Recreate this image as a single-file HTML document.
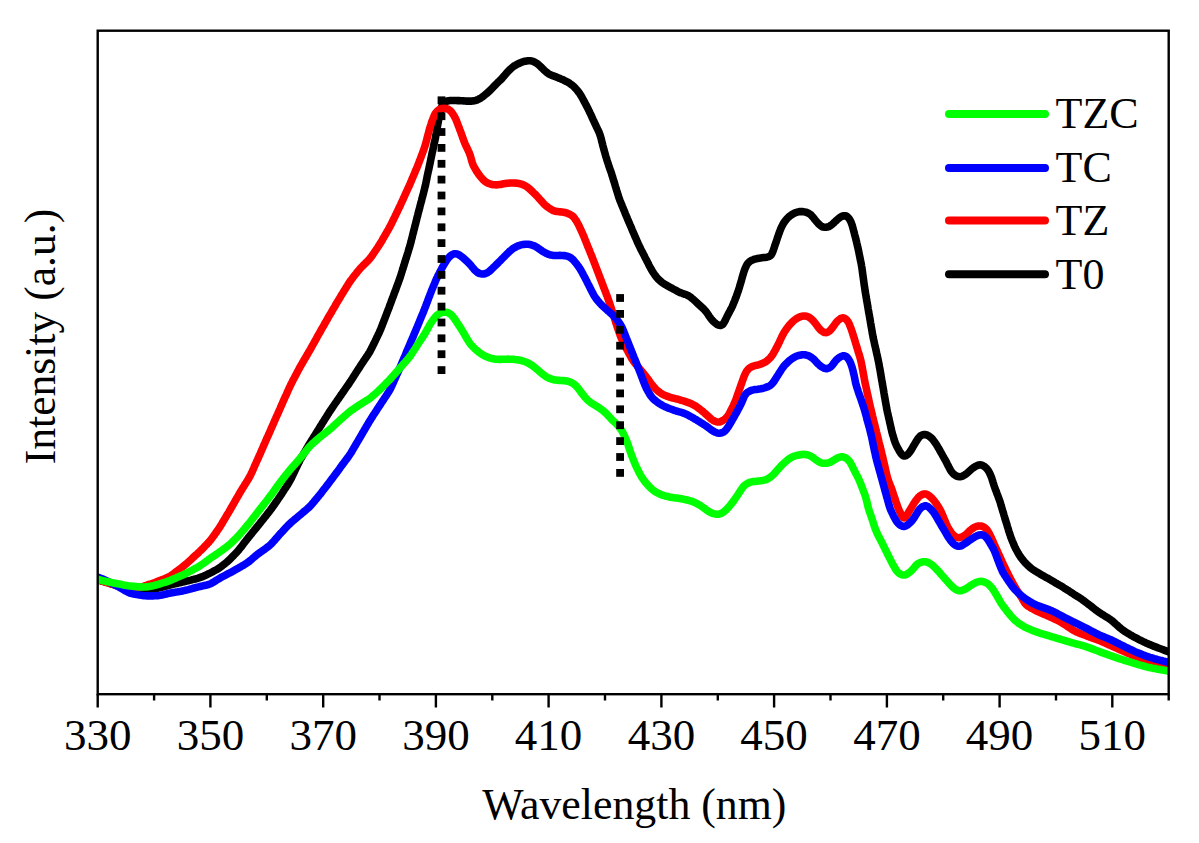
<!DOCTYPE html>
<html><head><meta charset="utf-8"><style>
html,body{margin:0;padding:0;background:#fff;}
body{width:1199px;height:843px;overflow:hidden;}
svg{display:block;font-family:"Liberation Serif",serif;}
</style></head><body>
<svg width="1199" height="843" viewBox="0 0 1199 843">
<rect width="1199" height="843" fill="#fff"/>
<defs><clipPath id="pc"><rect x="97.7" y="30.7" width="1071.0" height="663.5"/></clipPath></defs>
<g fill="none" stroke-width="7.6" stroke-linejoin="round" stroke-linecap="round" clip-path="url(#pc)">
<path d="M95.6,579.1L96.5,579.4 97.6,579.7 98.9,580.1 100.3,580.5 101.7,581.0 103.1,581.4 104.6,581.8 106.0,582.3 107.4,582.7 108.9,583.1 110.3,583.6 111.7,584.0 113.2,584.4 114.6,584.9 116.0,585.3 117.5,585.7 118.9,586.1 120.4,586.4 121.9,586.7 123.3,587.0 124.8,587.2 126.3,587.4 127.8,587.7 129.3,587.9 130.7,588.1 132.2,588.3 133.7,588.6 135.2,588.8 136.7,589.0 138.2,589.1 139.7,589.3 141.1,589.3 142.6,589.4 144.1,589.3 145.6,589.3 147.1,589.3 148.6,589.2 150.1,589.1 151.6,589.1 153.1,589.0 154.6,588.8 156.1,588.5 157.5,588.3 159.0,587.9 160.4,587.5 161.9,587.2 163.3,586.8 164.8,586.4 166.2,586.0 167.7,585.6 169.1,585.3 170.6,584.9 172.1,584.5 173.5,584.2 175.0,583.8 176.4,583.5 177.9,583.2 179.4,582.8 180.8,582.5 182.3,582.1 183.7,581.8 185.2,581.4 186.7,581.1 188.1,580.8 189.6,580.4 191.0,580.1 192.5,579.7 193.9,579.3 195.4,579.0 196.8,578.6 198.3,578.2 199.7,577.7 201.1,577.2 202.5,576.7 203.9,576.1 205.2,575.4 206.6,574.8 207.9,574.1 209.3,573.5 210.6,572.8 212.0,572.1 213.3,571.4 214.6,570.7 215.9,570.0 217.2,569.3 218.5,568.5 219.7,567.6 220.9,566.8 222.1,565.9 223.3,564.9 224.5,564.0 225.6,563.1 226.8,562.1 227.9,561.1 229.0,560.1 230.1,559.1 231.2,558.0 232.2,556.9 233.3,555.9 234.3,554.8 235.3,553.7 236.4,552.6 237.4,551.5 238.4,550.4 239.3,549.2 240.2,548.0 241.2,546.9 242.1,545.7 243.0,544.5 243.9,543.3 244.8,542.1 245.8,540.9 246.7,539.7 247.6,538.6 248.5,537.4 249.5,536.2 250.4,535.0 251.4,533.9 252.3,532.7 253.2,531.6 254.2,530.4 255.1,529.2 256.1,528.1 257.0,526.9 258.0,525.7 258.9,524.6 259.9,523.4 260.8,522.2 261.7,521.1 262.7,519.9 263.6,518.7 264.5,517.5 265.5,516.4 266.4,515.2 267.3,514.0 268.3,512.8 269.2,511.7 270.1,510.5 271.0,509.3 271.9,508.0 272.7,506.8 273.6,505.6 274.5,504.4 275.3,503.1 276.2,501.9 277.1,500.7 277.9,499.5 278.8,498.2 279.6,497.0 280.4,495.7 281.3,494.5 282.1,493.2 282.9,492.0 283.7,490.7 284.5,489.5 285.4,488.2 286.2,486.9 287.0,485.7 287.8,484.4 288.6,483.1 289.3,481.8 290.1,480.5 290.8,479.2 291.5,477.9 292.1,476.5 292.8,475.2 293.4,473.8 294.1,472.5 294.7,471.1 295.3,469.8 296.0,468.4 296.6,467.1 297.3,465.7 297.9,464.4 298.6,463.0 299.3,461.7 299.9,460.3 300.6,459.0 301.4,457.7 302.1,456.4 302.9,455.1 303.6,453.8 304.4,452.5 305.2,451.2 305.9,449.9 306.7,448.6 307.4,447.4 308.2,446.1 309.0,444.8 309.7,443.5 310.5,442.2 311.3,440.9 312.1,439.7 312.9,438.4 313.7,437.1 314.5,435.8 315.3,434.6 316.1,433.3 316.9,432.0 317.7,430.7 318.5,429.5 319.2,428.2 320.0,426.9 320.8,425.7 321.6,424.4 322.4,423.1 323.2,421.8 324.0,420.6 324.8,419.3 325.6,418.0 326.4,416.8 327.2,415.5 328.0,414.2 328.8,412.9 329.6,411.7 330.4,410.4 331.3,409.2 332.1,407.9 333.0,406.7 333.8,405.5 334.7,404.2 335.5,403.0 336.4,401.8 337.2,400.5 338.1,399.3 338.9,398.1 339.8,396.8 340.6,395.6 341.5,394.4 342.4,393.1 343.2,391.9 344.1,390.7 344.9,389.5 345.8,388.2 346.6,387.0 347.5,385.8 348.4,384.5 349.2,383.3 350.0,382.0 350.9,380.8 351.7,379.5 352.5,378.3 353.3,377.0 354.1,375.7 354.9,374.5 355.7,373.2 356.5,372.0 357.3,370.7 358.1,369.4 359.0,368.2 359.8,366.9 360.6,365.6 361.4,364.4 362.3,363.1 363.1,361.9 363.9,360.7 364.8,359.4 365.6,358.2 366.4,356.9 367.3,355.7 368.1,354.4 368.9,353.2 369.7,351.9 370.4,350.6 371.1,349.2 371.8,347.9 372.4,346.6 373.1,345.2 373.8,343.9 374.4,342.5 375.1,341.2 375.7,339.8 376.4,338.5 377.0,337.1 377.7,335.8 378.3,334.4 379.0,333.1 379.6,331.7 380.2,330.3 380.8,328.9 381.3,327.5 381.9,326.2 382.4,324.8 382.9,323.4 383.5,322.0 384.0,320.6 384.6,319.2 385.1,317.8 385.6,316.4 386.2,315.0 386.7,313.6 387.2,312.2 387.8,310.8 388.3,309.4 388.9,308.0 389.4,306.5 389.9,305.1 390.5,303.7 391.0,302.3 391.5,300.9 392.0,299.5 392.5,298.1 393.1,296.7 393.6,295.3 394.1,293.9 394.6,292.5 395.2,291.1 395.7,289.7 396.2,288.3 396.7,286.9 397.2,285.5 397.8,284.1 398.3,282.6 398.8,281.2 399.3,279.8 399.8,278.4 400.3,277.0 400.7,275.6 401.2,274.1 401.6,272.7 402.1,271.3 402.5,269.8 403.0,268.4 403.4,267.0 403.9,265.5 404.3,264.1 404.7,262.7 405.2,261.2 405.6,259.8 406.1,258.4 406.5,256.9 407.0,255.5 407.4,254.1 407.9,252.6 408.3,251.2 408.7,249.8 409.2,248.3 409.6,246.9 410.0,245.5 410.4,244.0 410.8,242.6 411.2,241.1 411.5,239.7 411.9,238.2 412.3,236.7 412.6,235.3 413.0,233.8 413.4,232.4 413.7,230.9 414.1,229.5 414.5,228.0 414.8,226.6 415.2,225.1 415.6,223.7 415.9,222.2 416.3,220.7 416.7,219.3 417.0,217.8 417.4,216.4 417.8,214.9 418.1,213.5 418.5,212.0 418.9,210.6 419.3,209.1 419.7,207.7 420.0,206.2 420.4,204.8 420.8,203.3 421.2,201.9 421.6,200.4 421.9,199.0 422.3,197.5 422.7,196.1 423.1,194.6 423.5,193.2 423.8,191.7 424.2,190.3 424.6,188.8 424.9,187.3 425.3,185.9 425.6,184.4 425.9,183.0 426.2,181.5 426.5,180.0 426.8,178.6 427.1,177.1 427.4,175.6 427.7,174.1 428.0,172.7 428.3,171.2 428.7,169.7 429.0,168.3 429.3,166.8 429.6,165.3 429.9,163.9 430.2,162.4 430.5,160.9 430.8,159.5 431.1,158.0 431.4,156.5 431.7,155.1 432.0,153.6 432.3,152.1 432.7,150.7 433.0,149.2 433.3,147.7 433.6,146.3 433.9,144.8 434.2,143.3 434.6,141.9 434.9,140.4 435.2,138.9 435.5,137.5 435.7,136.0 436.0,134.5 436.3,133.0 436.5,131.5 436.8,130.1 437.1,128.6 437.3,127.1 437.6,125.6 437.8,124.2 438.1,122.7 438.4,121.2 438.6,119.7 438.9,118.3 439.2,116.8 439.5,115.3 439.8,113.8 440.1,112.4 440.4,110.9 440.8,109.5 441.2,108.0 441.7,106.7 442.3,105.3 443.0,104.1 443.9,103.0 444.9,102.1 446.1,101.4 447.4,101.0 448.8,100.7 450.2,100.5 451.7,100.5 453.2,100.5 454.7,100.5 456.2,100.5 457.7,100.6 459.2,100.6 460.7,100.7 462.2,100.8 463.7,100.9 465.2,101.0 466.7,101.1 468.2,101.1 469.7,101.1 471.2,101.1 472.7,101.0 474.1,100.7 475.6,100.4 477.0,100.0 478.3,99.4 479.6,98.7 480.9,97.9 482.1,97.1 483.3,96.2 484.5,95.3 485.6,94.3 486.8,93.4 487.9,92.4 489.0,91.4 490.1,90.4 491.2,89.3 492.2,88.2 493.2,87.1 494.3,86.0 495.3,85.0 496.4,83.9 497.4,82.9 498.5,81.8 499.6,80.8 500.7,79.7 501.7,78.7 502.7,77.5 503.7,76.4 504.7,75.3 505.7,74.1 506.6,73.0 507.6,71.9 508.7,70.8 509.7,69.8 510.8,68.7 511.9,67.7 513.1,66.8 514.3,65.9 515.5,65.2 516.8,64.4 518.2,63.8 519.5,63.1 520.9,62.6 522.3,62.0 523.7,61.5 525.1,61.2 526.6,60.9 528.0,60.7 529.5,60.7 530.9,60.8 532.3,61.2 533.7,61.6 535.0,62.3 536.3,63.0 537.5,63.9 538.6,64.8 539.7,65.8 540.8,66.9 541.9,67.9 542.9,68.9 544.0,70.0 545.1,71.0 546.2,72.0 547.4,72.9 548.6,73.8 549.9,74.5 551.2,75.1 552.6,75.7 554.0,76.2 555.4,76.7 556.8,77.2 558.2,77.8 559.6,78.3 560.9,78.9 562.3,79.5 563.7,80.1 565.0,80.8 566.4,81.5 567.7,82.2 569.0,82.9 570.2,83.8 571.4,84.6 572.6,85.5 573.7,86.5 574.8,87.6 575.8,88.7 576.8,89.8 577.7,90.9 578.6,92.1 579.5,93.3 580.3,94.6 581.1,95.9 581.9,97.1 582.6,98.5 583.3,99.8 584.0,101.1 584.7,102.4 585.4,103.7 586.1,105.1 586.8,106.4 587.5,107.7 588.2,109.1 588.8,110.4 589.5,111.8 590.1,113.1 590.8,114.5 591.4,115.8 592.0,117.2 592.6,118.6 593.2,119.9 593.9,121.3 594.5,122.7 595.1,124.0 595.8,125.4 596.4,126.7 597.1,128.1 597.7,129.4 598.4,130.8 599.0,132.1 599.5,133.5 600.0,134.9 600.5,136.4 600.9,137.8 601.3,139.3 601.6,140.7 602.0,142.2 602.4,143.6 602.7,145.1 603.1,146.5 603.5,148.0 603.9,149.4 604.3,150.9 604.7,152.3 605.1,153.8 605.5,155.2 605.9,156.6 606.4,158.1 606.8,159.5 607.2,160.9 607.7,162.4 608.2,163.8 608.6,165.2 609.1,166.6 609.6,168.1 610.1,169.5 610.6,170.9 611.1,172.3 611.6,173.7 612.0,175.2 612.5,176.6 612.9,178.0 613.3,179.5 613.8,180.9 614.2,182.3 614.7,183.8 615.1,185.2 615.5,186.6 616.0,188.1 616.4,189.5 616.8,190.9 617.3,192.4 617.7,193.8 618.2,195.2 618.6,196.7 619.1,198.1 619.6,199.5 620.1,200.9 620.7,202.3 621.3,203.7 621.8,205.1 622.4,206.5 623.0,207.8 623.5,209.2 624.1,210.6 624.7,212.0 625.2,213.4 625.8,214.8 626.4,216.2 627.0,217.6 627.5,218.9 628.1,220.3 628.7,221.7 629.3,223.1 629.9,224.5 630.5,225.8 631.1,227.2 631.7,228.6 632.2,230.0 632.8,231.3 633.4,232.7 634.0,234.1 634.6,235.5 635.2,236.9 635.8,238.2 636.4,239.6 637.0,241.0 637.6,242.4 638.2,243.7 638.9,245.1 639.5,246.4 640.2,247.8 640.8,249.1 641.5,250.5 642.2,251.8 642.9,253.1 643.6,254.5 644.3,255.8 644.9,257.1 645.6,258.5 646.3,259.8 647.0,261.1 647.7,262.5 648.4,263.8 649.0,265.2 649.7,266.5 650.4,267.8 651.1,269.1 651.9,270.4 652.7,271.7 653.5,273.0 654.3,274.2 655.2,275.4 656.1,276.6 657.0,277.8 658.0,278.9 659.1,279.9 660.2,280.9 661.3,281.9 662.5,282.8 663.7,283.6 665.0,284.4 666.3,285.1 667.6,285.9 668.9,286.6 670.2,287.3 671.6,288.0 672.9,288.8 674.2,289.5 675.5,290.2 676.8,290.9 678.1,291.6 679.5,292.3 680.9,292.8 682.2,293.3 683.7,293.8 685.1,294.3 686.4,294.8 687.8,295.4 689.0,296.1 690.2,296.9 691.4,297.8 692.6,298.8 693.7,299.8 694.8,300.8 695.9,301.8 697.0,302.9 698.1,303.9 699.2,304.9 700.3,305.9 701.4,306.9 702.5,307.9 703.6,308.9 704.6,310.0 705.6,311.1 706.5,312.3 707.4,313.5 708.2,314.7 709.0,316.0 709.9,317.2 710.7,318.4 711.7,319.6 712.7,320.7 713.7,321.7 714.8,322.7 716.0,323.7 717.1,324.5 718.4,325.1 719.6,325.4 720.8,325.4 721.9,325.0 722.9,324.2 723.7,323.1 724.4,321.9 725.1,320.6 725.7,319.3 726.4,317.9 727.0,316.6 727.7,315.2 728.4,313.9 729.1,312.6 729.8,311.3 730.5,309.9 731.2,308.6 731.9,307.3 732.5,305.9 733.1,304.5 733.7,303.1 734.2,301.8 734.8,300.4 735.3,299.0 735.9,297.6 736.4,296.2 736.9,294.7 737.4,293.3 737.9,291.9 738.4,290.5 738.8,289.1 739.3,287.6 739.7,286.2 740.1,284.8 740.6,283.3 741.0,281.9 741.4,280.4 741.8,279.0 742.2,277.5 742.6,276.1 743.0,274.7 743.5,273.2 743.9,271.8 744.4,270.4 744.9,269.0 745.5,267.6 746.1,266.3 746.8,264.9 747.5,263.7 748.5,262.6 749.5,261.7 750.7,260.9 752.0,260.2 753.3,259.7 754.7,259.2 756.2,258.8 757.6,258.5 759.1,258.2 760.6,258.0 762.1,257.8 763.5,257.6 765.0,257.4 766.5,257.2 767.9,256.9 769.1,256.5 770.3,255.8 771.2,254.9 771.9,253.7 772.5,252.4 773.0,251.1 773.5,249.7 774.0,248.2 774.5,246.8 774.9,245.4 775.4,244.0 775.9,242.6 776.4,241.1 776.9,239.7 777.3,238.3 777.8,236.9 778.3,235.5 778.8,234.0 779.3,232.6 779.8,231.2 780.4,229.8 780.9,228.4 781.5,227.1 782.2,225.7 782.9,224.4 783.6,223.1 784.5,221.9 785.3,220.7 786.3,219.5 787.3,218.4 788.3,217.4 789.4,216.4 790.6,215.5 791.8,214.6 793.1,213.9 794.4,213.2 795.8,212.6 797.2,212.2 798.6,211.8 800.0,211.6 801.5,211.6 803.0,211.6 804.4,211.9 805.8,212.2 807.2,212.7 808.5,213.3 809.7,214.0 810.9,214.9 811.9,216.0 812.9,217.1 813.8,218.2 814.7,219.4 815.7,220.6 816.6,221.7 817.6,222.8 818.6,223.9 819.7,224.9 820.8,225.8 822.0,226.6 823.3,227.1 824.6,227.3 825.9,227.3 827.3,227.1 828.7,226.7 829.9,226.0 831.1,225.2 832.3,224.3 833.4,223.3 834.4,222.3 835.5,221.3 836.6,220.2 837.7,219.2 838.9,218.3 840.0,217.4 841.2,216.6 842.5,216.1 843.8,215.7 845.0,215.7 846.2,216.0 847.3,216.7 848.2,217.6 849.1,218.7 849.9,219.9 850.6,221.2 851.2,222.6 851.7,224.0 852.2,225.4 852.6,226.8 853.0,228.3 853.4,229.7 853.8,231.2 854.2,232.6 854.5,234.1 854.9,235.5 855.3,237.0 855.7,238.4 856.0,239.9 856.4,241.3 856.7,242.8 857.1,244.2 857.4,245.7 857.8,247.2 858.1,248.6 858.4,250.1 858.7,251.6 859.0,253.0 859.3,254.5 859.6,256.0 859.9,257.4 860.2,258.9 860.5,260.4 860.8,261.8 861.1,263.3 861.4,264.8 861.6,266.3 861.9,267.7 862.1,269.2 862.3,270.7 862.5,272.2 862.7,273.7 862.9,275.2 863.1,276.7 863.3,278.1 863.5,279.6 863.7,281.1 863.9,282.6 864.1,284.1 864.3,285.6 864.6,287.1 864.8,288.5 865.0,290.0 865.2,291.5 865.5,293.0 865.7,294.5 866.0,295.9 866.2,297.4 866.5,298.9 866.7,300.4 867.0,301.9 867.2,303.3 867.5,304.8 867.7,306.3 868.0,307.8 868.2,309.3 868.5,310.7 868.7,312.2 869.0,313.7 869.3,315.2 869.5,316.6 869.8,318.1 870.0,319.6 870.3,321.1 870.5,322.6 870.8,324.0 871.0,325.5 871.3,327.0 871.6,328.5 871.8,330.0 872.1,331.4 872.3,332.9 872.6,334.4 872.9,335.9 873.1,337.3 873.4,338.8 873.8,340.3 874.1,341.7 874.4,343.2 874.7,344.7 875.1,346.1 875.4,347.6 875.7,349.0 876.1,350.5 876.4,352.0 876.7,353.4 877.1,354.9 877.4,356.4 877.7,357.8 878.0,359.3 878.3,360.8 878.6,362.2 878.9,363.7 879.2,365.2 879.4,366.7 879.7,368.1 880.0,369.6 880.2,371.1 880.5,372.6 880.7,374.0 881.0,375.5 881.2,377.0 881.5,378.5 881.7,380.0 882.0,381.4 882.3,382.9 882.5,384.4 882.8,385.9 883.0,387.3 883.3,388.8 883.5,390.3 883.8,391.8 884.0,393.3 884.3,394.7 884.5,396.2 884.8,397.7 885.1,399.2 885.3,400.7 885.6,402.1 885.8,403.6 886.1,405.1 886.4,406.6 886.6,408.0 886.9,409.5 887.2,411.0 887.5,412.4 887.9,413.9 888.2,415.4 888.5,416.8 888.8,418.3 889.2,419.8 889.5,421.2 889.8,422.7 890.2,424.2 890.5,425.6 890.8,427.1 891.1,428.5 891.5,430.0 891.8,431.5 892.2,432.9 892.6,434.4 893.0,435.8 893.5,437.2 893.9,438.7 894.3,440.1 894.8,441.5 895.3,442.9 895.9,444.3 896.5,445.7 897.1,447.0 897.8,448.3 898.6,449.6 899.3,450.9 900.1,452.2 900.9,453.4 901.8,454.5 902.7,455.3 903.7,455.9 904.8,456.0 905.9,455.6 907.0,455.0 908.0,454.1 909.0,453.0 909.9,451.9 910.7,450.7 911.5,449.4 912.3,448.1 913.0,446.8 913.8,445.5 914.5,444.2 915.3,442.9 916.1,441.6 916.9,440.4 917.7,439.1 918.6,437.9 919.5,436.8 920.5,435.9 921.7,435.2 922.9,434.7 924.2,434.5 925.5,434.6 926.9,435.0 928.1,435.6 929.4,436.4 930.5,437.2 931.6,438.3 932.6,439.3 933.5,440.5 934.4,441.7 935.2,442.9 936.1,444.2 936.9,445.4 937.7,446.7 938.4,448.0 939.2,449.3 939.9,450.6 940.6,451.9 941.4,453.2 942.1,454.5 942.8,455.8 943.6,457.2 944.3,458.5 945.0,459.8 945.8,461.1 946.5,462.4 947.1,463.7 947.8,465.1 948.5,466.4 949.2,467.7 949.9,469.1 950.6,470.4 951.4,471.6 952.3,472.7 953.3,473.8 954.4,474.7 955.6,475.5 956.8,476.2 958.1,476.6 959.4,476.8 960.7,476.7 962.0,476.3 963.3,475.7 964.6,475.0 965.8,474.2 967.0,473.3 968.1,472.3 969.2,471.3 970.3,470.3 971.4,469.3 972.5,468.3 973.7,467.5 975.0,466.7 976.3,466.0 977.6,465.4 978.9,465.0 980.2,464.9 981.5,465.0 982.7,465.5 983.9,466.2 985.1,467.0 986.2,468.0 987.1,469.1 988.0,470.2 988.8,471.5 989.5,472.8 990.1,474.1 990.7,475.5 991.3,476.9 991.8,478.3 992.2,479.7 992.7,481.1 993.1,482.6 993.6,484.0 994.0,485.4 994.5,486.9 995.0,488.3 995.5,489.7 996.1,491.1 996.6,492.5 997.1,493.9 997.7,495.3 998.2,496.7 998.7,498.1 999.2,499.5 999.7,500.9 1000.2,502.3 1000.6,503.8 1001.0,505.2 1001.5,506.7 1001.9,508.1 1002.3,509.5 1002.7,511.0 1003.2,512.4 1003.6,513.8 1004.0,515.3 1004.5,516.7 1004.9,518.2 1005.3,519.6 1005.8,521.0 1006.2,522.5 1006.7,523.9 1007.1,525.3 1007.5,526.8 1008.0,528.2 1008.4,529.6 1008.8,531.1 1009.3,532.5 1009.7,533.9 1010.2,535.3 1010.7,536.8 1011.2,538.2 1011.8,539.6 1012.3,541.0 1012.9,542.3 1013.5,543.7 1014.0,545.1 1014.6,546.5 1015.3,547.8 1016.0,549.2 1016.7,550.5 1017.4,551.8 1018.1,553.1 1018.9,554.4 1019.7,555.7 1020.5,556.9 1021.4,558.1 1022.3,559.3 1023.3,560.5 1024.2,561.6 1025.2,562.8 1026.2,563.8 1027.3,564.9 1028.4,565.9 1029.5,566.9 1030.6,567.9 1031.8,568.8 1033.0,569.6 1034.3,570.5 1035.6,571.3 1036.8,572.0 1038.1,572.8 1039.4,573.6 1040.7,574.4 1042.0,575.1 1043.3,575.8 1044.6,576.6 1045.9,577.3 1047.2,578.0 1048.6,578.7 1049.9,579.5 1051.1,580.2 1052.4,581.0 1053.7,581.8 1055.0,582.6 1056.3,583.3 1057.6,584.1 1058.9,584.8 1060.2,585.5 1061.5,586.3 1062.8,587.1 1064.0,587.9 1065.3,588.7 1066.6,589.5 1067.8,590.3 1069.1,591.1 1070.3,591.9 1071.6,592.8 1072.9,593.6 1074.1,594.4 1075.4,595.2 1076.7,596.0 1077.9,596.8 1079.2,597.6 1080.5,598.4 1081.7,599.2 1082.9,600.1 1084.1,601.0 1085.3,601.8 1086.5,602.8 1087.7,603.7 1088.9,604.6 1090.1,605.5 1091.3,606.4 1092.4,607.4 1093.6,608.3 1094.8,609.2 1096.0,610.1 1097.2,611.0 1098.4,611.9 1099.6,612.8 1100.9,613.6 1102.2,614.4 1103.5,615.1 1104.7,615.9 1106.0,616.7 1107.3,617.5 1108.6,618.3 1109.8,619.1 1111.0,620.0 1112.2,620.9 1113.3,621.9 1114.4,622.9 1115.5,623.9 1116.7,624.9 1117.8,625.9 1118.9,626.9 1120.0,627.9 1121.2,628.8 1122.3,629.8 1123.6,630.6 1124.8,631.5 1126.1,632.3 1127.3,633.0 1128.6,633.8 1129.9,634.6 1131.2,635.3 1132.5,636.1 1133.8,636.8 1135.1,637.5 1136.5,638.2 1137.8,638.9 1139.1,639.6 1140.5,640.3 1141.8,640.9 1143.2,641.6 1144.5,642.2 1145.9,642.9 1147.3,643.5 1148.6,644.1 1150.0,644.6 1151.4,645.2 1152.8,645.8 1154.2,646.3 1155.6,646.9 1157.0,647.4 1158.4,648.0 1159.8,648.5 1161.2,649.0 1162.6,649.5 1164.0,650.1 1165.4,650.6 1166.8,651.1 1168.1,651.5 1169.3,652.0 1170.3,652.3 1170.9,652.5" stroke="#000000"/>
<path d="M95.6,579.1L96.5,579.4 97.6,579.7 98.9,580.1 100.3,580.5 101.7,581.0 103.1,581.4 104.6,581.8 106.0,582.3 107.4,582.7 108.9,583.1 110.3,583.6 111.7,584.0 113.2,584.4 114.6,584.9 116.0,585.3 117.5,585.7 118.9,586.0 120.4,586.3 121.9,586.5 123.4,586.6 124.9,586.7 126.4,586.8 127.9,586.9 129.3,587.0 130.8,587.0 132.3,587.1 133.8,587.2 135.3,587.2 136.8,587.3 138.3,587.2 139.8,587.1 141.2,586.8 142.7,586.5 144.1,586.1 145.5,585.6 147.0,585.2 148.4,584.7 149.8,584.2 151.2,583.8 152.6,583.3 154.1,582.8 155.5,582.3 156.9,581.7 158.3,581.2 159.7,580.6 161.1,580.1 162.4,579.5 163.8,579.0 165.2,578.4 166.6,577.8 168.0,577.2 169.3,576.5 170.6,575.8 171.8,575.0 173.1,574.1 174.3,573.2 175.4,572.3 176.6,571.4 177.8,570.5 179.0,569.6 180.2,568.7 181.4,567.8 182.6,566.8 183.8,565.9 184.9,564.9 186.1,564.0 187.2,563.0 188.3,562.0 189.4,561.0 190.5,560.0 191.6,559.0 192.7,557.9 193.8,556.9 194.9,555.9 196.0,554.9 197.2,553.9 198.3,552.9 199.3,551.8 200.4,550.8 201.5,549.7 202.5,548.7 203.6,547.6 204.6,546.5 205.7,545.4 206.7,544.4 207.7,543.3 208.8,542.2 209.7,541.0 210.7,539.9 211.6,538.7 212.5,537.5 213.4,536.3 214.3,535.1 215.1,533.9 216.0,532.6 216.9,531.4 217.7,530.2 218.6,528.9 219.4,527.7 220.2,526.4 221.0,525.1 221.8,523.9 222.5,522.6 223.3,521.3 224.1,520.0 224.8,518.7 225.6,517.4 226.4,516.1 227.1,514.8 227.9,513.5 228.7,512.3 229.4,511.0 230.2,509.7 230.9,508.4 231.7,507.1 232.4,505.8 233.2,504.5 233.9,503.2 234.6,501.9 235.4,500.6 236.1,499.3 236.9,498.0 237.6,496.7 238.4,495.4 239.1,494.1 239.9,492.8 240.7,491.5 241.4,490.2 242.2,488.9 243.0,487.7 243.8,486.4 244.6,485.1 245.4,483.8 246.2,482.6 247.0,481.3 247.8,480.0 248.6,478.7 249.3,477.4 250.0,476.1 250.7,474.8 251.3,473.4 252.0,472.1 252.6,470.7 253.2,469.3 253.8,468.0 254.4,466.6 255.0,465.2 255.6,463.8 256.2,462.5 256.8,461.1 257.5,459.7 258.1,458.4 258.7,457.0 259.3,455.6 259.9,454.3 260.5,452.9 261.1,451.5 261.7,450.1 262.3,448.8 262.9,447.4 263.5,446.0 264.1,444.6 264.7,443.3 265.3,441.9 265.9,440.5 266.5,439.2 267.1,437.8 267.8,436.4 268.4,435.0 269.0,433.7 269.6,432.3 270.2,430.9 270.8,429.5 271.4,428.2 272.0,426.8 272.6,425.4 273.2,424.1 273.8,422.7 274.4,421.3 275.0,419.9 275.6,418.6 276.2,417.2 276.8,415.8 277.5,414.5 278.1,413.1 278.7,411.7 279.3,410.3 279.9,409.0 280.5,407.6 281.1,406.2 281.7,404.9 282.3,403.5 282.9,402.1 283.5,400.7 284.1,399.4 284.7,398.0 285.3,396.6 286.0,395.3 286.6,393.9 287.2,392.5 287.8,391.1 288.4,389.8 289.0,388.4 289.6,387.0 290.3,385.7 291.0,384.3 291.6,383.0 292.3,381.7 293.0,380.3 293.7,379.0 294.4,377.7 295.1,376.4 295.8,375.0 296.5,373.7 297.2,372.4 297.9,371.0 298.6,369.7 299.3,368.4 300.0,367.1 300.8,365.8 301.5,364.5 302.3,363.2 303.0,361.9 303.8,360.6 304.5,359.3 305.3,358.0 306.1,356.7 306.8,355.4 307.6,354.1 308.3,352.8 309.1,351.5 309.8,350.2 310.6,348.9 311.3,347.6 312.0,346.3 312.8,345.0 313.5,343.7 314.2,342.4 315.0,341.1 315.7,339.8 316.4,338.5 317.1,337.1 317.9,335.8 318.6,334.5 319.3,333.2 320.1,331.9 320.8,330.6 321.5,329.3 322.3,328.0 323.0,326.7 323.8,325.4 324.5,324.1 325.3,322.8 326.0,321.5 326.8,320.2 327.5,318.9 328.2,317.6 329.0,316.3 329.7,315.0 330.5,313.7 331.3,312.4 332.0,311.1 332.8,309.8 333.5,308.5 334.3,307.2 335.1,305.9 335.8,304.6 336.6,303.3 337.3,302.0 338.1,300.7 338.9,299.5 339.6,298.2 340.4,296.9 341.2,295.6 342.0,294.3 342.8,293.0 343.5,291.8 344.3,290.5 345.1,289.2 345.9,287.9 346.7,286.7 347.5,285.4 348.3,284.1 349.1,282.9 349.9,281.6 350.8,280.4 351.7,279.2 352.6,278.0 353.5,276.8 354.4,275.6 355.4,274.4 356.3,273.3 357.2,272.1 358.2,270.9 359.1,269.8 360.1,268.6 361.1,267.5 362.2,266.5 363.2,265.4 364.3,264.4 365.4,263.3 366.4,262.3 367.5,261.2 368.5,260.1 369.5,259.0 370.5,257.8 371.4,256.7 372.2,255.4 373.1,254.2 373.9,253.0 374.8,251.7 375.6,250.5 376.5,249.2 377.3,248.0 378.1,246.8 378.9,245.5 379.8,244.2 380.5,243.0 381.3,241.7 382.1,240.4 382.8,239.1 383.6,237.8 384.3,236.5 385.1,235.2 385.8,233.9 386.6,232.6 387.3,231.3 388.1,230.0 388.8,228.7 389.5,227.4 390.2,226.1 390.9,224.7 391.6,223.4 392.3,222.0 392.9,220.7 393.6,219.3 394.2,218.0 394.9,216.6 395.5,215.3 396.2,213.9 396.8,212.6 397.5,211.2 398.1,209.9 398.8,208.5 399.4,207.2 400.1,205.8 400.7,204.5 401.3,203.1 401.9,201.7 402.6,200.4 403.2,199.0 403.8,197.6 404.4,196.3 405.0,194.9 405.7,193.5 406.3,192.2 406.9,190.8 407.5,189.4 408.1,188.1 408.8,186.7 409.4,185.3 410.0,184.0 410.6,182.6 411.2,181.2 411.8,179.8 412.3,178.4 412.9,177.1 413.5,175.7 414.1,174.3 414.7,172.9 415.2,171.5 415.8,170.1 416.4,168.8 417.0,167.4 417.6,166.0 418.1,164.6 418.7,163.2 419.2,161.8 419.7,160.4 420.3,159.0 420.8,157.6 421.3,156.2 421.8,154.8 422.4,153.4 422.9,152.0 423.4,150.6 423.9,149.2 424.4,147.7 424.9,146.3 425.3,144.9 425.7,143.4 426.1,142.0 426.5,140.6 426.9,139.1 427.3,137.6 427.6,136.2 428.0,134.7 428.4,133.3 428.8,131.8 429.1,130.4 429.5,128.9 430.0,127.5 430.4,126.1 430.9,124.6 431.3,123.2 431.8,121.8 432.3,120.4 432.9,119.0 433.4,117.6 434.0,116.2 434.6,114.9 435.3,113.6 436.2,112.4 437.1,111.3 438.2,110.3 439.3,109.5 440.5,108.8 441.8,108.4 443.2,108.2 444.6,108.2 446.0,108.4 447.4,108.8 448.6,109.5 449.8,110.3 450.8,111.3 451.8,112.4 452.6,113.6 453.4,114.8 454.2,116.1 454.9,117.4 455.6,118.7 456.2,120.1 456.7,121.5 457.3,122.9 457.8,124.3 458.3,125.7 458.9,127.1 459.4,128.5 459.9,129.9 460.5,131.3 461.0,132.7 461.5,134.1 462.0,135.5 462.5,137.0 463.0,138.4 463.5,139.8 464.0,141.2 464.6,142.6 465.1,144.0 465.7,145.3 466.4,146.7 467.0,148.0 467.7,149.4 468.3,150.7 469.0,152.1 469.5,153.5 470.0,154.9 470.5,156.3 470.9,157.7 471.3,159.2 471.7,160.6 472.1,162.1 472.6,163.5 473.1,164.9 473.7,166.2 474.4,167.5 475.2,168.8 475.9,170.1 476.7,171.4 477.6,172.6 478.4,173.9 479.3,175.1 480.2,176.3 481.1,177.4 482.1,178.5 483.1,179.6 484.2,180.6 485.3,181.6 486.6,182.4 487.8,183.1 489.2,183.7 490.6,184.1 492.0,184.5 493.5,184.7 494.9,184.8 496.4,184.9 497.9,184.8 499.4,184.6 500.8,184.4 502.3,184.1 503.8,183.8 505.3,183.6 506.7,183.3 508.2,183.2 509.7,183.0 511.2,183.0 512.7,183.0 514.2,183.0 515.7,183.1 517.2,183.3 518.6,183.5 520.1,183.8 521.5,184.2 522.9,184.7 524.3,185.3 525.6,186.0 526.8,186.7 528.0,187.6 529.2,188.6 530.3,189.6 531.4,190.6 532.5,191.6 533.5,192.7 534.6,193.7 535.7,194.8 536.7,195.9 537.7,196.9 538.7,198.1 539.7,199.2 540.7,200.3 541.7,201.4 542.7,202.5 543.7,203.6 544.8,204.7 545.9,205.7 547.1,206.6 548.2,207.5 549.5,208.4 550.7,209.2 552.0,209.9 553.3,210.6 554.7,211.0 556.1,211.4 557.6,211.6 559.0,211.8 560.5,211.9 562.0,212.0 563.5,212.2 564.9,212.5 566.3,212.9 567.7,213.4 569.1,214.0 570.4,214.6 571.6,215.4 572.8,216.3 573.8,217.3 574.7,218.4 575.5,219.7 576.4,220.9 577.1,222.2 577.8,223.5 578.5,224.8 579.2,226.2 579.8,227.5 580.4,228.9 581.1,230.3 581.7,231.6 582.3,233.0 582.9,234.4 583.5,235.7 584.1,237.1 584.6,238.5 585.2,239.9 585.8,241.3 586.3,242.7 586.9,244.1 587.4,245.5 588.0,246.9 588.6,248.3 589.1,249.7 589.7,251.0 590.2,252.4 590.8,253.8 591.4,255.2 591.9,256.6 592.5,258.0 593.0,259.4 593.6,260.8 594.1,262.2 594.6,263.6 595.2,265.0 595.7,266.4 596.3,267.8 596.8,269.2 597.3,270.6 597.9,272.0 598.4,273.4 598.9,274.8 599.5,276.2 600.0,277.6 600.5,279.0 601.1,280.4 601.6,281.8 602.1,283.2 602.7,284.6 603.2,286.0 603.7,287.4 604.3,288.8 604.8,290.2 605.4,291.6 605.9,293.0 606.4,294.4 607.0,295.8 607.5,297.2 608.0,298.6 608.5,300.0 609.0,301.5 609.5,302.9 610.0,304.3 610.4,305.7 610.9,307.2 611.4,308.6 611.8,310.0 612.3,311.4 612.8,312.9 613.2,314.3 613.7,315.7 614.1,317.1 614.6,318.6 615.0,320.0 615.5,321.4 615.9,322.9 616.4,324.3 616.9,325.7 617.3,327.1 617.8,328.6 618.3,330.0 618.8,331.4 619.3,332.8 619.8,334.2 620.3,335.6 620.8,337.0 621.4,338.4 622.0,339.8 622.7,341.1 623.3,342.5 624.0,343.8 624.7,345.2 625.3,346.5 626.0,347.8 626.7,349.2 627.4,350.5 628.1,351.8 628.8,353.2 629.5,354.5 630.2,355.8 631.0,357.1 631.7,358.4 632.5,359.7 633.3,360.9 634.2,362.1 635.1,363.3 636.0,364.5 637.0,365.6 637.9,366.8 638.9,367.9 639.9,369.1 640.8,370.2 641.8,371.4 642.8,372.5 643.7,373.7 644.7,374.9 645.6,376.0 646.5,377.2 647.4,378.4 648.3,379.6 649.2,380.8 650.1,382.1 650.9,383.3 651.8,384.5 652.8,385.6 653.7,386.8 654.7,387.9 655.7,389.0 656.8,390.0 657.9,391.0 659.1,391.9 660.3,392.8 661.5,393.6 662.8,394.3 664.2,395.0 665.5,395.6 666.9,396.2 668.3,396.7 669.7,397.2 671.2,397.6 672.6,398.0 674.1,398.3 675.5,398.7 677.0,399.0 678.4,399.4 679.9,399.8 681.3,400.3 682.7,400.7 684.2,401.1 685.6,401.6 687.0,402.1 688.4,402.6 689.8,403.1 691.2,403.7 692.5,404.4 693.9,405.1 695.1,405.8 696.4,406.6 697.6,407.5 698.8,408.4 700.0,409.3 701.2,410.2 702.4,411.1 703.5,412.1 704.7,413.1 705.8,414.1 706.9,415.1 708.0,416.1 709.1,417.1 710.2,418.1 711.3,419.1 712.5,419.9 713.8,420.7 715.1,421.3 716.4,421.8 717.7,422.0 719.1,422.0 720.4,421.7 721.8,421.1 723.0,420.4 724.2,419.6 725.4,418.7 726.4,417.6 727.4,416.5 728.2,415.3 729.0,414.1 729.7,412.8 730.4,411.4 731.1,410.1 731.7,408.8 732.4,407.4 733.1,406.1 733.7,404.7 734.3,403.4 734.9,402.0 735.5,400.6 736.0,399.2 736.5,397.8 737.0,396.4 737.5,394.9 738.0,393.5 738.5,392.1 739.0,390.7 739.5,389.3 740.0,387.9 740.5,386.5 741.0,385.0 741.5,383.6 742.0,382.2 742.5,380.8 743.0,379.4 743.5,378.0 744.0,376.6 744.6,375.2 745.2,373.8 745.9,372.5 746.6,371.2 747.5,370.1 748.4,369.0 749.5,368.0 750.7,367.3 752.0,366.6 753.4,366.1 754.8,365.7 756.3,365.3 757.7,365.0 759.1,364.6 760.6,364.1 762.0,363.6 763.3,363.0 764.6,362.3 765.9,361.6 767.1,360.7 768.2,359.8 769.3,358.8 770.3,357.7 771.3,356.5 772.2,355.3 773.0,354.1 773.7,352.8 774.5,351.5 775.2,350.2 775.9,348.9 776.6,347.6 777.3,346.2 778.0,344.9 778.6,343.5 779.3,342.2 779.9,340.8 780.5,339.5 781.2,338.1 781.8,336.7 782.5,335.4 783.2,334.1 783.9,332.8 784.7,331.5 785.5,330.3 786.4,329.0 787.3,327.8 788.2,326.6 789.1,325.5 790.1,324.3 791.1,323.2 792.1,322.2 793.2,321.1 794.3,320.2 795.5,319.3 796.7,318.5 798.0,317.7 799.4,317.1 800.7,316.6 802.1,316.2 803.6,316.0 805.0,316.0 806.3,316.2 807.7,316.6 808.9,317.2 810.1,318.0 811.2,318.9 812.3,319.9 813.4,321.0 814.3,322.1 815.3,323.3 816.2,324.5 817.1,325.7 818.0,326.9 818.9,328.1 819.9,329.2 820.9,330.2 822.0,331.1 823.2,331.9 824.4,332.4 825.6,332.6 826.8,332.5 828.0,332.0 829.1,331.2 830.2,330.3 831.2,329.3 832.1,328.1 833.0,326.9 833.9,325.7 834.7,324.5 835.6,323.3 836.5,322.1 837.5,321.0 838.6,320.0 839.7,319.2 840.8,318.4 842.0,318.0 843.2,317.9 844.3,318.2 845.4,318.8 846.5,319.7 847.4,320.8 848.2,321.9 848.9,323.2 849.5,324.6 850.0,326.0 850.6,327.4 851.1,328.8 851.6,330.2 852.1,331.6 852.5,333.0 853.0,334.4 853.4,335.9 853.9,337.3 854.3,338.7 854.8,340.2 855.2,341.6 855.6,343.1 856.1,344.5 856.5,345.9 856.9,347.4 857.4,348.8 857.8,350.2 858.2,351.7 858.7,353.1 859.1,354.5 859.6,356.0 860.0,357.4 860.4,358.9 860.7,360.3 861.1,361.8 861.4,363.2 861.7,364.7 862.0,366.2 862.2,367.6 862.5,369.1 862.8,370.6 863.1,372.1 863.3,373.5 863.6,375.0 863.9,376.5 864.2,378.0 864.4,379.4 864.7,380.9 865.0,382.4 865.3,383.9 865.6,385.3 865.9,386.8 866.3,388.3 866.6,389.7 866.9,391.2 867.2,392.7 867.5,394.1 867.8,395.6 868.2,397.1 868.5,398.5 868.8,400.0 869.1,401.4 869.4,402.9 869.8,404.4 870.1,405.8 870.4,407.3 870.8,408.8 871.1,410.2 871.5,411.7 871.8,413.1 872.2,414.6 872.5,416.1 872.9,417.5 873.3,419.0 873.6,420.4 874.0,421.9 874.3,423.3 874.7,424.8 875.1,426.2 875.4,427.7 875.8,429.2 876.2,430.6 876.5,432.1 876.9,433.5 877.2,435.0 877.6,436.4 878.0,437.9 878.3,439.3 878.7,440.8 879.0,442.3 879.4,443.7 879.8,445.2 880.1,446.6 880.5,448.1 880.8,449.5 881.2,451.0 881.6,452.4 881.9,453.9 882.3,455.4 882.6,456.8 883.0,458.3 883.3,459.7 883.6,461.2 884.0,462.7 884.3,464.1 884.6,465.6 885.0,467.1 885.3,468.5 885.6,470.0 886.0,471.4 886.3,472.9 886.6,474.4 887.0,475.8 887.4,477.3 887.8,478.7 888.2,480.1 888.7,481.5 889.3,482.9 889.8,484.3 890.4,485.7 891.0,487.1 891.5,488.5 892.0,489.9 892.5,491.3 893.0,492.7 893.4,494.2 893.9,495.6 894.4,497.0 894.9,498.4 895.3,499.9 895.8,501.3 896.3,502.7 896.8,504.1 897.3,505.5 897.8,507.0 898.3,508.3 898.9,509.7 899.5,511.1 900.2,512.4 900.8,513.8 901.5,515.0 902.2,516.2 902.9,517.2 903.6,517.8 904.3,517.9 905.1,517.5 905.8,516.7 906.6,515.6 907.3,514.4 908.1,513.1 908.9,511.8 909.6,510.5 910.4,509.2 911.2,508.0 911.9,506.7 912.7,505.4 913.5,504.1 914.3,502.8 915.1,501.6 916.0,500.4 916.9,499.2 917.8,498.0 918.8,496.9 919.9,496.0 921.0,495.1 922.3,494.5 923.6,494.1 924.9,493.9 926.1,494.1 927.3,494.5 928.5,495.3 929.6,496.1 930.7,497.1 931.8,498.1 932.8,499.2 933.8,500.4 934.7,501.5 935.6,502.7 936.5,504.0 937.3,505.2 938.2,506.4 939.0,507.7 939.7,509.0 940.4,510.3 941.1,511.7 941.7,513.0 942.3,514.4 942.9,515.8 943.4,517.2 944.0,518.5 944.6,519.9 945.2,521.3 945.8,522.7 946.4,524.1 947.0,525.4 947.6,526.8 948.3,528.1 949.1,529.4 949.9,530.6 950.7,531.9 951.6,533.1 952.5,534.2 953.6,535.2 954.7,536.1 955.9,536.9 957.1,537.4 958.5,537.7 959.8,537.6 961.1,537.3 962.4,536.8 963.6,536.1 964.9,535.3 966.0,534.4 967.1,533.4 968.1,532.4 969.2,531.3 970.2,530.3 971.4,529.3 972.6,528.5 973.8,527.7 975.1,527.0 976.4,526.5 977.8,526.1 979.2,526.0 980.6,526.0 982.0,526.3 983.3,526.8 984.5,527.5 985.6,528.4 986.6,529.4 987.5,530.6 988.3,531.8 989.0,533.1 989.7,534.4 990.4,535.8 991.0,537.1 991.6,538.5 992.3,539.9 992.9,541.2 993.5,542.6 994.1,544.0 994.7,545.3 995.3,546.7 995.9,548.1 996.6,549.4 997.2,550.8 997.8,552.2 998.4,553.5 999.0,554.9 999.7,556.3 1000.3,557.6 1000.9,559.0 1001.5,560.4 1002.1,561.7 1002.8,563.1 1003.4,564.5 1004.0,565.8 1004.7,567.2 1005.3,568.5 1006.0,569.9 1006.6,571.2 1007.3,572.6 1008.0,573.9 1008.6,575.2 1009.3,576.6 1010.0,577.9 1010.7,579.2 1011.4,580.6 1012.1,581.9 1012.8,583.2 1013.6,584.5 1014.3,585.8 1015.0,587.1 1015.8,588.4 1016.6,589.7 1017.4,591.0 1018.2,592.2 1019.0,593.5 1019.8,594.7 1020.6,596.0 1021.4,597.3 1022.2,598.6 1022.9,599.9 1023.7,601.1 1024.4,602.4 1025.3,603.6 1026.2,604.7 1027.3,605.6 1028.5,606.5 1029.8,607.2 1031.0,608.0 1032.4,608.7 1033.7,609.4 1035.0,610.1 1036.3,610.8 1037.7,611.5 1039.0,612.1 1040.4,612.7 1041.8,613.3 1043.1,613.9 1044.5,614.5 1045.9,615.1 1047.3,615.7 1048.7,616.3 1050.0,616.9 1051.4,617.5 1052.8,618.1 1054.1,618.8 1055.5,619.4 1056.8,620.1 1058.2,620.7 1059.5,621.4 1060.8,622.1 1062.1,622.9 1063.4,623.7 1064.6,624.5 1065.9,625.3 1067.1,626.2 1068.4,627.0 1069.6,627.8 1070.9,628.7 1072.1,629.5 1073.4,630.3 1074.7,631.0 1076.0,631.7 1077.4,632.3 1078.7,632.9 1080.1,633.4 1081.5,634.0 1082.9,634.5 1084.3,635.0 1085.7,635.5 1087.1,636.1 1088.6,636.6 1090.0,637.1 1091.4,637.6 1092.8,638.1 1094.2,638.6 1095.6,639.1 1097.0,639.6 1098.4,640.2 1099.8,640.7 1101.2,641.3 1102.6,641.9 1103.9,642.5 1105.3,643.1 1106.7,643.8 1108.0,644.4 1109.4,645.0 1110.8,645.6 1112.2,646.2 1113.5,646.8 1114.9,647.4 1116.3,648.0 1117.6,648.7 1119.0,649.3 1120.4,649.9 1121.7,650.5 1123.1,651.1 1124.5,651.7 1125.9,652.3 1127.2,652.9 1128.6,653.5 1130.0,654.1 1131.4,654.7 1132.7,655.3 1134.1,655.8 1135.5,656.4 1136.9,656.9 1138.4,657.4 1139.8,657.8 1141.2,658.3 1142.6,658.8 1144.1,659.2 1145.5,659.7 1146.9,660.1 1148.4,660.5 1149.8,660.9 1151.3,661.3 1152.7,661.7 1154.2,662.0 1155.6,662.4 1157.1,662.7 1158.6,663.1 1160.0,663.4 1161.5,663.7 1163.0,664.0 1164.4,664.3 1165.9,664.6 1167.3,664.9 1168.6,665.1 1169.7,665.3 1170.6,665.5" stroke="#ff0000"/>
<path d="M95.6,576.1L96.4,576.4 97.5,576.9 98.7,577.4 100.1,578.0 101.4,578.5 102.8,579.1 104.2,579.7 105.5,580.3 106.9,580.9 108.3,581.6 109.6,582.2 111.0,582.9 112.3,583.5 113.7,584.2 115.0,584.9 116.3,585.6 117.6,586.3 118.9,587.0 120.2,587.8 121.5,588.5 122.8,589.3 124.1,590.1 125.4,590.8 126.7,591.5 128.1,592.2 129.4,592.8 130.8,593.3 132.2,593.7 133.7,594.1 135.1,594.3 136.6,594.6 138.1,594.8 139.6,595.1 141.0,595.3 142.5,595.5 144.0,595.7 145.5,595.8 147.0,595.9 148.5,595.9 150.0,595.9 151.5,595.9 153.0,595.9 154.5,595.8 156.0,595.8 157.5,595.7 159.0,595.5 160.4,595.3 161.9,595.0 163.3,594.7 164.8,594.3 166.3,594.0 167.7,593.6 169.2,593.3 170.6,593.0 172.1,592.7 173.6,592.4 175.1,592.2 176.5,591.9 178.0,591.7 179.5,591.4 181.0,591.2 182.5,590.9 183.9,590.6 185.4,590.3 186.9,589.9 188.3,589.6 189.8,589.2 191.2,588.8 192.6,588.4 194.1,588.0 195.5,587.6 197.0,587.2 198.4,586.9 199.9,586.5 201.4,586.2 202.8,585.9 204.3,585.6 205.8,585.3 207.2,584.9 208.6,584.5 210.0,584.0 211.3,583.4 212.6,582.6 213.9,581.9 215.2,581.1 216.4,580.2 217.7,579.5 219.0,578.7 220.3,577.9 221.6,577.2 222.9,576.5 224.2,575.8 225.6,575.1 226.9,574.4 228.2,573.7 229.5,573.0 230.9,572.3 232.2,571.6 233.5,570.9 234.8,570.1 236.1,569.4 237.4,568.7 238.7,567.9 240.0,567.2 241.3,566.4 242.6,565.7 243.9,564.9 245.2,564.1 246.4,563.3 247.7,562.5 248.9,561.6 250.0,560.6 251.2,559.7 252.3,558.7 253.5,557.7 254.6,556.7 255.7,555.8 256.9,554.8 258.1,553.9 259.3,553.0 260.5,552.2 261.7,551.3 263.0,550.4 264.2,549.6 265.4,548.7 266.6,547.8 267.8,546.9 269.0,546.0 270.1,545.0 271.2,544.0 272.2,542.9 273.2,541.8 274.2,540.7 275.2,539.5 276.2,538.4 277.2,537.3 278.2,536.1 279.1,535.0 280.1,533.9 281.2,532.8 282.2,531.7 283.2,530.6 284.2,529.5 285.2,528.4 286.3,527.3 287.3,526.2 288.3,525.1 289.4,524.1 290.5,523.1 291.6,522.0 292.7,521.1 293.9,520.1 295.0,519.1 296.2,518.2 297.3,517.2 298.5,516.3 299.6,515.3 300.8,514.3 301.9,513.4 303.1,512.4 304.2,511.4 305.4,510.5 306.5,509.5 307.6,508.5 308.8,507.5 309.8,506.5 310.9,505.4 311.9,504.3 312.8,503.1 313.8,502.0 314.8,500.8 315.7,499.7 316.7,498.5 317.6,497.4 318.6,496.2 319.5,495.0 320.5,493.9 321.4,492.7 322.3,491.5 323.2,490.3 324.1,489.1 325.1,488.0 326.0,486.8 326.9,485.6 327.8,484.4 328.7,483.2 329.6,482.0 330.5,480.8 331.4,479.6 332.3,478.4 333.2,477.2 334.1,476.0 335.0,474.8 335.9,473.6 336.8,472.4 337.7,471.2 338.6,470.0 339.5,468.8 340.3,467.5 341.2,466.3 342.1,465.1 343.0,463.9 343.9,462.7 344.8,461.5 345.7,460.3 346.6,459.1 347.5,457.9 348.4,456.7 349.2,455.5 350.1,454.2 350.9,453.0 351.7,451.7 352.4,450.4 353.2,449.1 354.0,447.8 354.7,446.5 355.5,445.2 356.2,443.9 357.0,442.6 357.7,441.4 358.5,440.1 359.3,438.8 360.0,437.5 360.8,436.2 361.5,434.9 362.3,433.6 363.0,432.3 363.8,431.0 364.6,429.7 365.3,428.4 366.1,427.1 366.8,425.8 367.6,424.5 368.4,423.2 369.1,421.9 369.9,420.7 370.7,419.4 371.5,418.1 372.3,416.9 373.1,415.6 373.9,414.3 374.8,413.1 375.6,411.8 376.4,410.6 377.2,409.3 378.0,408.0 378.8,406.8 379.7,405.5 380.5,404.3 381.3,403.0 382.1,401.8 383.0,400.5 383.8,399.3 384.6,398.0 385.5,396.8 386.3,395.5 387.1,394.3 387.9,393.0 388.7,391.8 389.5,390.5 390.2,389.2 390.9,387.8 391.5,386.5 392.2,385.1 392.8,383.7 393.4,382.4 394.0,381.0 394.6,379.6 395.2,378.3 395.8,376.9 396.4,375.5 397.0,374.2 397.7,372.8 398.3,371.4 398.9,370.0 399.5,368.7 400.1,367.3 400.7,365.9 401.3,364.5 401.8,363.2 402.4,361.8 403.0,360.4 403.6,359.0 404.2,357.6 404.8,356.3 405.4,354.9 406.0,353.5 406.5,352.1 407.1,350.7 407.7,349.4 408.3,348.0 408.9,346.6 409.5,345.2 410.1,343.8 410.6,342.5 411.2,341.1 411.8,339.7 412.4,338.3 413.0,336.9 413.6,335.5 414.1,334.2 414.7,332.8 415.3,331.4 415.9,330.0 416.5,328.6 417.1,327.2 417.6,325.9 418.2,324.5 418.8,323.1 419.4,321.7 419.9,320.3 420.5,318.9 421.1,317.5 421.6,316.2 422.2,314.8 422.8,313.4 423.4,312.0 423.9,310.6 424.5,309.2 425.0,307.8 425.6,306.4 426.1,305.0 426.6,303.6 427.2,302.2 427.7,300.8 428.2,299.4 428.7,298.0 429.3,296.6 429.8,295.2 430.3,293.8 430.9,292.4 431.4,291.0 432.0,289.6 432.6,288.2 433.1,286.8 433.7,285.4 434.3,284.1 434.9,282.7 435.4,281.3 436.0,279.9 436.6,278.5 437.3,277.2 437.9,275.8 438.6,274.5 439.3,273.2 440.0,271.8 440.7,270.5 441.4,269.2 442.1,267.9 442.8,266.5 443.6,265.2 444.3,264.0 445.1,262.7 445.9,261.4 446.7,260.2 447.6,259.0 448.5,257.8 449.5,256.7 450.6,255.8 451.7,254.9 452.9,254.3 454.2,253.8 455.5,253.7 456.8,253.9 458.1,254.3 459.3,255.0 460.5,255.8 461.7,256.7 462.9,257.6 464.0,258.6 465.1,259.6 466.2,260.6 467.3,261.6 468.4,262.7 469.4,263.7 470.4,264.9 471.4,266.0 472.3,267.2 473.3,268.3 474.2,269.5 475.2,270.5 476.3,271.5 477.5,272.4 478.7,273.1 480.0,273.6 481.4,273.9 482.8,274.0 484.2,273.9 485.5,273.5 486.8,273.0 488.1,272.2 489.3,271.4 490.4,270.4 491.5,269.4 492.5,268.4 493.6,267.3 494.7,266.3 495.7,265.2 496.8,264.1 497.9,263.1 498.9,262.0 500.0,261.0 501.1,259.9 502.1,258.8 503.2,257.8 504.2,256.7 505.3,255.6 506.3,254.6 507.4,253.5 508.5,252.5 509.5,251.4 510.7,250.5 511.8,249.5 513.0,248.6 514.3,247.8 515.6,247.1 516.9,246.4 518.2,245.8 519.6,245.3 521.1,244.9 522.5,244.6 524.0,244.4 525.4,244.3 526.9,244.3 528.4,244.3 529.9,244.5 531.3,244.9 532.7,245.3 534.1,245.8 535.4,246.4 536.7,247.2 537.9,248.0 539.1,248.9 540.3,249.8 541.6,250.6 542.8,251.5 544.1,252.2 545.4,252.9 546.7,253.6 548.1,254.2 549.5,254.7 550.9,255.1 552.4,255.3 553.8,255.5 555.3,255.5 556.8,255.5 558.3,255.5 559.8,255.4 561.2,255.5 562.7,255.5 564.2,255.6 565.7,255.8 567.1,256.2 568.5,256.6 569.8,257.2 571.0,258.0 572.1,258.9 573.2,259.9 574.2,261.0 575.1,262.2 576.1,263.3 577.0,264.5 577.9,265.7 578.8,266.9 579.6,268.2 580.4,269.4 581.1,270.7 581.9,272.0 582.6,273.3 583.3,274.7 584.0,276.0 584.7,277.3 585.4,278.6 586.1,280.0 586.8,281.3 587.4,282.6 588.1,284.0 588.8,285.3 589.5,286.7 590.1,288.0 590.8,289.4 591.5,290.7 592.2,292.0 592.9,293.4 593.6,294.7 594.3,296.0 595.1,297.2 596.0,298.4 596.9,299.6 597.8,300.8 598.8,301.9 599.8,303.1 600.8,304.1 601.9,305.2 602.9,306.3 604.0,307.3 605.1,308.3 606.2,309.3 607.3,310.3 608.5,311.3 609.6,312.3 610.8,313.3 611.9,314.2 613.0,315.3 614.0,316.3 615.0,317.4 616.0,318.6 616.9,319.7 617.8,320.9 618.7,322.1 619.6,323.3 620.4,324.6 621.2,325.9 621.9,327.2 622.5,328.5 623.1,329.9 623.7,331.3 624.2,332.7 624.8,334.1 625.3,335.5 625.9,336.9 626.4,338.3 627.0,339.6 627.5,341.0 628.1,342.4 628.6,343.8 629.2,345.2 629.7,346.6 630.3,348.0 630.9,349.4 631.4,350.8 632.0,352.2 632.5,353.6 633.1,355.0 633.6,356.4 634.2,357.8 634.8,359.1 635.3,360.5 635.9,361.9 636.4,363.3 637.0,364.7 637.6,366.1 638.1,367.5 638.7,368.9 639.2,370.3 639.8,371.7 640.3,373.1 640.9,374.5 641.4,375.9 641.9,377.3 642.5,378.7 643.0,380.1 643.5,381.5 644.1,382.9 644.6,384.3 645.2,385.7 645.8,387.0 646.4,388.4 647.1,389.7 647.8,391.0 648.6,392.3 649.3,393.6 650.1,394.9 651.0,396.1 651.9,397.3 652.8,398.4 653.9,399.4 655.0,400.4 656.2,401.3 657.4,402.2 658.6,403.1 659.9,403.9 661.1,404.7 662.4,405.4 663.8,406.1 665.1,406.7 666.5,407.3 667.9,407.9 669.3,408.5 670.7,409.0 672.1,409.5 673.5,410.1 674.9,410.5 676.3,411.0 677.7,411.4 679.2,411.8 680.6,412.2 682.1,412.6 683.5,413.1 684.9,413.6 686.2,414.2 687.6,414.9 688.9,415.6 690.2,416.3 691.5,417.0 692.8,417.8 694.1,418.6 695.4,419.3 696.7,420.1 698.0,420.9 699.2,421.7 700.5,422.4 701.8,423.2 703.1,424.0 704.3,424.8 705.6,425.7 706.8,426.5 708.0,427.4 709.2,428.3 710.4,429.2 711.6,430.1 712.9,430.9 714.1,431.6 715.5,432.3 716.8,432.8 718.2,433.2 719.5,433.3 720.9,433.1 722.2,432.7 723.4,432.1 724.6,431.2 725.6,430.2 726.6,429.1 727.4,427.9 728.3,426.7 729.1,425.4 729.9,424.1 730.6,422.9 731.4,421.6 732.1,420.3 732.9,419.0 733.6,417.7 734.4,416.4 735.1,415.0 735.8,413.7 736.6,412.4 737.3,411.1 738.0,409.8 738.7,408.5 739.4,407.1 740.1,405.8 740.8,404.5 741.4,403.1 742.0,401.8 742.6,400.4 743.2,399.0 743.7,397.6 744.3,396.3 745.1,395.0 745.9,393.9 746.9,392.8 748.0,392.0 749.3,391.3 750.6,390.7 752.0,390.2 753.4,389.9 754.9,389.6 756.4,389.4 757.9,389.2 759.3,388.9 760.8,388.7 762.3,388.4 763.7,388.1 765.2,387.7 766.6,387.2 768.0,386.7 769.3,386.0 770.5,385.3 771.6,384.3 772.5,383.3 773.4,382.1 774.3,380.9 775.1,379.6 775.9,378.4 776.7,377.1 777.5,375.8 778.3,374.6 779.1,373.3 779.9,372.0 780.7,370.8 781.5,369.5 782.3,368.3 783.2,367.1 784.1,365.9 785.1,364.8 786.2,363.7 787.2,362.7 788.3,361.6 789.4,360.6 790.6,359.7 791.8,358.8 793.0,358.0 794.3,357.2 795.6,356.6 797.0,356.0 798.4,355.5 799.8,355.2 801.3,354.9 802.7,354.8 804.2,354.8 805.6,354.9 807.1,355.3 808.4,355.7 809.7,356.4 811.0,357.1 812.2,358.0 813.3,358.9 814.4,359.9 815.4,361.0 816.4,362.1 817.4,363.2 818.5,364.3 819.6,365.3 820.7,366.2 821.9,367.0 823.2,367.7 824.4,368.3 825.7,368.6 827.0,368.6 828.3,368.2 829.5,367.7 830.7,366.9 831.7,365.9 832.6,364.8 833.5,363.6 834.4,362.4 835.3,361.2 836.2,360.1 837.3,359.1 838.4,358.2 839.6,357.4 840.9,356.7 842.1,356.1 843.3,355.8 844.5,355.8 845.6,356.2 846.6,356.9 847.5,357.9 848.4,359.0 849.2,360.3 849.9,361.5 850.5,362.9 851.0,364.3 851.5,365.7 852.0,367.1 852.4,368.6 852.8,370.0 853.2,371.4 853.5,372.9 853.9,374.4 854.2,375.8 854.5,377.3 854.8,378.8 855.1,380.2 855.4,381.7 855.7,383.2 856.1,384.6 856.5,386.1 856.9,387.5 857.4,388.9 857.9,390.3 858.3,391.8 858.8,393.2 859.3,394.6 859.8,396.0 860.3,397.4 860.8,398.8 861.3,400.3 861.8,401.7 862.3,403.1 862.7,404.5 863.2,405.9 863.7,407.4 864.1,408.8 864.6,410.2 865.0,411.7 865.4,413.1 865.8,414.6 866.2,416.0 866.6,417.5 866.9,418.9 867.3,420.4 867.7,421.8 868.1,423.3 868.5,424.7 868.9,426.1 869.3,427.6 869.7,429.0 870.0,430.5 870.4,431.9 870.8,433.4 871.1,434.9 871.5,436.3 871.8,437.8 872.1,439.3 872.4,440.7 872.7,442.2 873.0,443.7 873.3,445.1 873.6,446.6 873.9,448.1 874.2,449.5 874.5,451.0 874.9,452.5 875.2,453.9 875.5,455.4 875.8,456.9 876.2,458.3 876.5,459.8 876.9,461.2 877.3,462.7 877.7,464.1 878.1,465.6 878.5,467.0 878.9,468.5 879.3,469.9 879.7,471.4 880.1,472.8 880.5,474.2 880.9,475.7 881.3,477.1 881.7,478.6 882.1,480.0 882.5,481.5 882.9,482.9 883.3,484.4 883.7,485.8 884.1,487.3 884.5,488.7 884.9,490.2 885.3,491.6 885.7,493.0 886.1,494.5 886.5,495.9 886.9,497.4 887.3,498.8 887.7,500.3 888.1,501.7 888.5,503.2 888.9,504.6 889.3,506.0 889.8,507.5 890.3,508.9 890.8,510.2 891.5,511.6 892.1,513.0 892.8,514.3 893.4,515.7 894.1,517.0 894.8,518.3 895.5,519.6 896.3,520.9 897.1,522.1 898.0,523.2 899.1,524.2 900.2,525.1 901.4,525.8 902.6,526.3 903.8,526.5 904.9,526.3 906.1,525.8 907.2,525.1 908.4,524.2 909.5,523.2 910.6,522.2 911.6,521.1 912.6,520.0 913.4,518.8 914.3,517.6 915.1,516.3 915.8,515.0 916.6,513.8 917.4,512.5 918.2,511.2 919.0,510.0 920.0,508.9 921.0,507.9 922.1,507.0 923.3,506.4 924.5,505.9 925.7,505.8 926.9,506.1 928.0,506.7 929.1,507.5 930.2,508.5 931.2,509.5 932.2,510.6 933.1,511.8 934.0,513.0 934.8,514.2 935.6,515.5 936.4,516.8 937.1,518.1 937.9,519.4 938.6,520.7 939.4,522.0 940.1,523.3 940.9,524.6 941.6,525.9 942.4,527.2 943.2,528.5 943.9,529.7 944.7,531.0 945.4,532.3 946.2,533.6 947.0,534.9 947.7,536.2 948.5,537.5 949.4,538.7 950.2,539.9 951.1,541.1 952.1,542.3 953.1,543.4 954.1,544.3 955.3,545.1 956.5,545.8 957.8,546.2 959.1,546.3 960.3,546.1 961.6,545.6 962.9,544.9 964.1,544.1 965.4,543.3 966.6,542.5 967.8,541.6 969.1,540.7 970.3,539.9 971.5,539.0 972.7,538.2 974.0,537.4 975.3,536.6 976.6,536.0 977.9,535.4 979.3,535.0 980.7,534.8 982.0,534.9 983.2,535.2 984.4,535.9 985.5,536.7 986.5,537.7 987.4,538.9 988.3,540.1 989.0,541.4 989.8,542.6 990.5,543.9 991.3,545.2 992.0,546.5 992.8,547.8 993.5,549.1 994.2,550.5 994.8,551.8 995.3,553.2 995.9,554.6 996.4,556.0 996.9,557.4 997.4,558.8 997.9,560.2 998.5,561.6 999.0,563.0 999.5,564.4 1000.1,565.8 1000.6,567.2 1001.2,568.6 1001.8,570.0 1002.4,571.3 1003.1,572.7 1003.9,573.9 1004.7,575.2 1005.5,576.5 1006.3,577.7 1007.1,579.0 1008.0,580.2 1008.8,581.5 1009.7,582.7 1010.5,583.9 1011.4,585.2 1012.3,586.4 1013.2,587.5 1014.1,588.7 1015.1,589.8 1016.2,590.9 1017.2,591.9 1018.3,593.0 1019.4,594.0 1020.6,595.0 1021.7,595.9 1022.9,596.9 1024.1,597.8 1025.3,598.7 1026.5,599.5 1027.7,600.3 1029.0,601.1 1030.3,601.9 1031.6,602.6 1032.9,603.4 1034.3,604.0 1035.6,604.7 1037.0,605.3 1038.4,605.8 1039.8,606.3 1041.2,606.8 1042.6,607.3 1044.0,607.8 1045.4,608.3 1046.8,608.8 1048.2,609.4 1049.6,609.9 1051.0,610.5 1052.4,611.1 1053.7,611.7 1055.1,612.4 1056.4,613.0 1057.7,613.8 1059.0,614.5 1060.3,615.2 1061.7,615.9 1063.0,616.6 1064.3,617.3 1065.7,618.0 1067.0,618.7 1068.3,619.3 1069.7,620.0 1071.0,620.7 1072.4,621.4 1073.7,622.0 1075.1,622.7 1076.4,623.3 1077.8,624.0 1079.1,624.7 1080.4,625.3 1081.8,626.0 1083.1,626.6 1084.5,627.3 1085.8,628.0 1087.2,628.7 1088.5,629.4 1089.8,630.1 1091.1,630.8 1092.5,631.5 1093.8,632.2 1095.1,632.9 1096.4,633.6 1097.8,634.2 1099.1,634.9 1100.5,635.5 1101.9,636.1 1103.3,636.6 1104.7,637.2 1106.1,637.8 1107.4,638.3 1108.8,638.9 1110.2,639.5 1111.6,640.1 1112.9,640.8 1114.3,641.4 1115.6,642.1 1116.9,642.8 1118.3,643.4 1119.6,644.1 1121.0,644.8 1122.3,645.5 1123.7,646.1 1125.0,646.8 1126.3,647.5 1127.7,648.1 1129.0,648.8 1130.4,649.4 1131.7,650.1 1133.1,650.7 1134.5,651.4 1135.8,652.0 1137.2,652.6 1138.6,653.1 1140.0,653.7 1141.4,654.2 1142.8,654.8 1144.2,655.3 1145.6,655.9 1147.0,656.3 1148.4,656.8 1149.8,657.3 1151.3,657.7 1152.7,658.1 1154.2,658.6 1155.6,659.0 1157.0,659.4 1158.5,659.8 1159.9,660.2 1161.4,660.5 1162.8,660.9 1164.3,661.3 1165.7,661.6 1167.1,662.0 1168.4,662.3 1169.5,662.6 1170.4,662.8" stroke="#0000ff"/>
<path d="M95.6,578.6L96.5,578.9 97.6,579.2 98.9,579.6 100.3,580.0 101.7,580.4 103.1,580.8 104.6,581.1 106.1,581.4 107.5,581.7 109.0,582.0 110.5,582.3 111.9,582.6 113.4,582.9 114.9,583.2 116.4,583.5 117.8,583.8 119.3,584.0 120.8,584.3 122.2,584.6 123.7,584.9 125.2,585.2 126.7,585.4 128.1,585.7 129.6,585.9 131.1,586.1 132.6,586.3 134.1,586.4 135.6,586.5 137.1,586.7 138.6,586.8 140.1,586.9 141.6,587.0 143.1,587.0 144.5,587.0 146.0,586.9 147.5,586.8 149.0,586.5 150.5,586.3 151.9,586.0 153.4,585.7 154.9,585.3 156.3,585.0 157.7,584.5 159.2,584.1 160.6,583.6 162.0,583.2 163.5,582.7 164.9,582.3 166.3,581.8 167.7,581.3 169.1,580.8 170.5,580.3 171.9,579.7 173.3,579.1 174.7,578.5 176.1,577.9 177.4,577.3 178.8,576.7 180.2,576.1 181.5,575.5 182.9,574.9 184.3,574.3 185.6,573.6 187.0,572.9 188.3,572.2 189.6,571.5 190.9,570.8 192.3,570.1 193.6,569.4 194.9,568.7 196.2,568.0 197.5,567.3 198.8,566.5 200.1,565.7 201.3,564.9 202.6,564.0 203.8,563.2 205.0,562.3 206.2,561.4 207.4,560.5 208.6,559.6 209.8,558.7 211.0,557.8 212.3,557.0 213.5,556.2 214.8,555.3 216.0,554.5 217.3,553.6 218.5,552.8 219.7,551.9 220.9,551.1 222.1,550.2 223.4,549.3 224.6,548.4 225.8,547.5 226.9,546.6 228.1,545.6 229.3,544.7 230.4,543.7 231.5,542.7 232.6,541.6 233.7,540.6 234.7,539.6 235.8,538.5 236.9,537.5 237.9,536.4 238.9,535.3 239.9,534.2 240.9,533.0 241.9,531.9 242.9,530.8 243.8,529.6 244.8,528.5 245.8,527.3 246.7,526.2 247.7,525.0 248.6,523.8 249.6,522.7 250.5,521.5 251.4,520.3 252.3,519.1 253.2,517.9 254.2,516.7 255.1,515.6 256.0,514.4 256.9,513.2 257.8,512.0 258.8,510.8 259.7,509.6 260.6,508.5 261.5,507.3 262.5,506.1 263.4,504.9 264.3,503.7 265.2,502.6 266.2,501.4 267.1,500.2 268.0,499.0 268.9,497.8 269.8,496.6 270.7,495.4 271.6,494.2 272.5,493.0 273.4,491.8 274.2,490.6 275.1,489.3 276.0,488.1 276.9,486.9 277.7,485.7 278.6,484.5 279.5,483.3 280.4,482.1 281.3,480.9 282.2,479.7 283.1,478.5 284.1,477.3 285.0,476.1 285.9,474.9 286.8,473.8 287.8,472.6 288.7,471.4 289.6,470.3 290.6,469.1 291.6,468.0 292.6,466.8 293.6,465.7 294.6,464.6 295.6,463.5 296.6,462.4 297.6,461.2 298.5,460.1 299.5,459.0 300.5,457.8 301.4,456.7 302.4,455.5 303.3,454.3 304.2,453.1 305.2,452.0 306.1,450.8 307.0,449.6 308.0,448.4 308.9,447.3 309.9,446.2 311.0,445.1 312.0,444.1 313.1,443.1 314.3,442.1 315.4,441.1 316.5,440.1 317.6,439.1 318.8,438.1 319.9,437.2 321.1,436.2 322.3,435.3 323.5,434.4 324.7,433.5 325.8,432.6 327.0,431.6 328.2,430.7 329.4,429.8 330.5,428.8 331.6,427.8 332.8,426.8 333.8,425.8 334.9,424.8 336.0,423.7 337.1,422.7 338.2,421.7 339.3,420.7 340.4,419.7 341.6,418.7 342.7,417.7 343.8,416.7 345.0,415.7 346.1,414.7 347.2,413.7 348.4,412.8 349.5,411.8 350.7,410.9 351.9,410.0 353.2,409.2 354.4,408.3 355.6,407.5 356.9,406.6 358.1,405.8 359.4,405.0 360.6,404.2 361.9,403.4 363.2,402.6 364.5,401.8 365.8,401.0 367.0,400.2 368.3,399.4 369.5,398.6 370.7,397.7 371.9,396.7 373.0,395.8 374.1,394.8 375.2,393.8 376.4,392.8 377.5,391.8 378.6,390.8 379.7,389.7 380.7,388.7 381.8,387.6 382.9,386.6 383.9,385.5 385.0,384.5 386.0,383.4 387.1,382.3 388.1,381.2 389.2,380.2 390.2,379.1 391.2,378.0 392.2,376.8 393.2,375.7 394.2,374.6 395.2,373.5 396.2,372.3 397.2,371.2 398.2,370.1 399.2,369.0 400.1,367.8 401.1,366.7 402.1,365.6 403.1,364.4 404.1,363.3 405.1,362.2 406.1,361.1 407.1,359.9 408.0,358.8 409.0,357.6 409.9,356.4 410.8,355.2 411.6,354.0 412.4,352.7 413.2,351.5 414.1,350.2 414.9,349.0 415.7,347.7 416.5,346.4 417.3,345.2 418.1,343.9 418.9,342.7 419.8,341.4 420.6,340.2 421.4,338.9 422.3,337.7 423.1,336.4 423.9,335.2 424.7,333.9 425.5,332.6 426.2,331.3 426.9,330.0 427.7,328.7 428.4,327.4 429.1,326.0 429.8,324.7 430.6,323.5 431.4,322.2 432.3,321.0 433.1,319.8 434.0,318.6 435.0,317.4 436.0,316.3 437.0,315.3 438.2,314.4 439.4,313.6 440.7,312.9 442.0,312.4 443.4,312.1 444.8,312.1 446.2,312.2 447.6,312.6 448.9,313.1 450.1,313.9 451.2,314.8 452.2,315.9 453.2,317.0 454.1,318.2 454.9,319.4 455.8,320.6 456.6,321.9 457.4,323.1 458.2,324.4 459.1,325.6 459.9,326.9 460.7,328.2 461.5,329.4 462.3,330.7 463.0,332.0 463.8,333.3 464.6,334.6 465.3,335.9 466.1,337.2 466.8,338.5 467.6,339.8 468.4,341.0 469.2,342.3 470.0,343.5 470.9,344.7 471.9,345.8 473.0,346.9 474.0,347.9 475.1,349.0 476.2,350.0 477.4,350.9 478.5,351.9 479.7,352.8 480.9,353.6 482.2,354.4 483.5,355.2 484.8,355.9 486.2,356.5 487.5,357.1 488.9,357.6 490.3,358.1 491.8,358.5 493.2,358.8 494.7,359.1 496.2,359.2 497.7,359.3 499.2,359.4 500.7,359.4 502.2,359.3 503.6,359.3 505.1,359.2 506.6,359.2 508.1,359.1 509.6,359.2 511.1,359.2 512.6,359.3 514.1,359.4 515.6,359.6 517.1,359.7 518.6,360.0 520.0,360.3 521.5,360.6 522.9,361.0 524.4,361.5 525.8,362.0 527.1,362.6 528.5,363.2 529.8,364.0 531.0,364.8 532.3,365.6 533.5,366.5 534.6,367.4 535.8,368.3 537.0,369.3 538.1,370.3 539.2,371.3 540.4,372.2 541.5,373.2 542.7,374.1 543.9,375.1 545.1,375.9 546.3,376.8 547.6,377.5 548.9,378.2 550.3,378.7 551.7,379.2 553.1,379.6 554.6,379.9 556.0,380.1 557.5,380.3 559.0,380.4 560.5,380.5 562.0,380.5 563.5,380.6 565.0,380.8 566.4,381.0 567.9,381.3 569.3,381.7 570.7,382.3 572.0,382.9 573.2,383.7 574.4,384.5 575.6,385.5 576.6,386.5 577.6,387.6 578.5,388.8 579.4,390.0 580.3,391.2 581.2,392.4 582.1,393.6 583.0,394.8 584.0,395.9 584.9,397.1 585.9,398.2 586.9,399.3 588.0,400.4 589.1,401.3 590.3,402.2 591.5,403.1 592.7,403.9 594.0,404.6 595.3,405.4 596.6,406.2 597.8,407.0 599.1,407.8 600.3,408.7 601.6,409.5 602.7,410.5 603.9,411.4 605.0,412.4 606.1,413.4 607.2,414.5 608.2,415.6 609.2,416.7 610.2,417.8 611.2,418.9 612.2,420.0 613.3,421.0 614.4,422.0 615.5,423.0 616.6,424.0 617.6,425.1 618.6,426.2 619.5,427.4 620.4,428.6 621.2,429.8 622.0,431.1 622.7,432.4 623.4,433.7 624.1,435.1 624.7,436.4 625.3,437.8 625.9,439.2 626.5,440.6 627.0,442.0 627.6,443.4 628.1,444.8 628.5,446.2 629.0,447.6 629.5,449.1 629.9,450.5 630.4,451.9 630.9,453.3 631.4,454.7 631.9,456.1 632.5,457.5 633.0,458.9 633.6,460.3 634.1,461.7 634.7,463.1 635.3,464.5 635.9,465.8 636.5,467.2 637.2,468.5 637.9,469.9 638.5,471.2 639.2,472.6 639.9,473.9 640.6,475.2 641.3,476.5 642.1,477.8 643.0,479.0 643.9,480.2 644.8,481.4 645.7,482.6 646.7,483.7 647.7,484.9 648.7,486.0 649.7,487.0 650.8,488.1 651.9,489.1 653.0,490.0 654.2,490.9 655.4,491.8 656.7,492.5 658.0,493.2 659.4,493.9 660.7,494.4 662.1,495.0 663.6,495.4 665.0,495.9 666.4,496.3 667.9,496.6 669.4,496.9 670.8,497.2 672.3,497.5 673.8,497.7 675.3,497.9 676.8,498.1 678.2,498.3 679.7,498.5 681.2,498.8 682.7,499.1 684.1,499.4 685.6,499.7 687.1,500.0 688.5,500.4 690.0,500.8 691.4,501.2 692.8,501.7 694.2,502.3 695.5,502.9 696.9,503.6 698.2,504.3 699.5,505.0 700.8,505.8 702.0,506.6 703.2,507.5 704.4,508.4 705.6,509.3 706.8,510.2 708.1,511.0 709.3,511.8 710.7,512.5 712.0,513.1 713.4,513.6 714.8,513.9 716.2,514.2 717.6,514.2 719.0,514.1 720.4,513.7 721.7,513.2 722.9,512.4 724.1,511.6 725.2,510.6 726.3,509.6 727.4,508.5 728.4,507.4 729.3,506.3 730.3,505.1 731.2,504.0 732.2,502.8 733.1,501.6 734.0,500.4 734.8,499.2 735.7,497.9 736.5,496.7 737.4,495.5 738.2,494.2 739.0,493.0 739.8,491.7 740.6,490.4 741.5,489.2 742.3,488.0 743.2,486.8 744.2,485.8 745.3,484.8 746.5,484.0 747.8,483.3 749.1,482.7 750.5,482.2 751.9,481.8 753.4,481.6 754.9,481.4 756.4,481.2 757.9,481.1 759.3,480.9 760.8,480.7 762.3,480.5 763.8,480.2 765.2,479.8 766.6,479.4 767.9,478.7 769.1,478.0 770.3,477.1 771.5,476.2 772.6,475.2 773.7,474.2 774.7,473.1 775.7,472.0 776.7,470.8 777.7,469.7 778.7,468.6 779.7,467.5 780.7,466.4 781.7,465.3 782.8,464.2 783.9,463.2 785.0,462.2 786.1,461.2 787.2,460.2 788.4,459.3 789.6,458.5 790.9,457.7 792.2,457.0 793.5,456.4 794.9,456.0 796.4,455.5 797.8,455.2 799.3,454.9 800.8,454.6 802.2,454.5 803.7,454.4 805.2,454.5 806.6,454.7 808.0,455.0 809.4,455.5 810.7,456.1 812.0,456.9 813.2,457.7 814.4,458.6 815.6,459.5 816.8,460.4 818.0,461.2 819.3,462.0 820.6,462.6 821.9,463.0 823.3,463.2 824.8,463.3 826.2,463.2 827.7,462.9 829.1,462.6 830.5,462.1 831.8,461.4 833.1,460.7 834.3,459.9 835.6,459.1 836.8,458.3 838.1,457.7 839.4,457.2 840.8,456.9 842.2,456.8 843.5,457.0 844.8,457.5 846.0,458.1 847.2,459.0 848.2,460.0 849.2,461.1 850.1,462.2 850.8,463.5 851.5,464.8 852.2,466.1 852.8,467.5 853.5,468.8 854.2,470.2 854.8,471.5 855.5,472.8 856.2,474.2 856.9,475.5 857.6,476.8 858.3,478.2 858.9,479.5 859.5,480.9 860.1,482.3 860.7,483.7 861.2,485.1 861.7,486.5 862.3,487.9 862.8,489.3 863.3,490.7 863.9,492.1 864.4,493.5 864.9,494.9 865.4,496.3 865.8,497.7 866.2,499.2 866.6,500.6 866.9,502.1 867.3,503.6 867.6,505.0 868.0,506.5 868.3,507.9 868.8,509.4 869.2,510.8 869.7,512.2 870.2,513.6 870.7,515.0 871.2,516.5 871.7,517.9 872.1,519.3 872.6,520.7 873.1,522.1 873.5,523.6 874.0,525.0 874.4,526.4 874.9,527.8 875.4,529.2 876.0,530.6 876.6,532.0 877.2,533.4 877.8,534.7 878.5,536.1 879.2,537.4 879.9,538.7 880.6,540.1 881.3,541.4 882.0,542.7 882.6,544.1 883.3,545.4 884.0,546.8 884.6,548.1 885.3,549.5 885.9,550.8 886.6,552.1 887.3,553.5 887.9,554.8 888.6,556.2 889.3,557.5 890.0,558.9 890.6,560.2 891.3,561.5 892.0,562.9 892.7,564.2 893.4,565.5 894.2,566.8 894.9,568.1 895.7,569.4 896.5,570.6 897.4,571.7 898.5,572.7 899.6,573.6 900.8,574.3 902.0,574.8 903.3,575.0 904.6,575.0 905.9,574.6 907.1,574.0 908.3,573.2 909.5,572.4 910.7,571.4 911.7,570.4 912.7,569.3 913.7,568.2 914.6,567.0 915.6,565.9 916.6,564.8 917.7,563.9 918.9,563.2 920.1,562.6 921.5,562.1 922.9,561.8 924.3,561.7 925.7,561.8 927.1,562.1 928.4,562.6 929.7,563.3 930.9,564.1 932.1,565.0 933.2,565.9 934.3,567.0 935.4,568.0 936.4,569.1 937.4,570.2 938.5,571.3 939.5,572.4 940.4,573.5 941.4,574.7 942.4,575.8 943.4,576.9 944.4,578.1 945.4,579.2 946.4,580.3 947.4,581.4 948.4,582.6 949.4,583.7 950.4,584.8 951.4,585.8 952.5,586.9 953.6,587.9 954.8,588.8 956.0,589.6 957.3,590.2 958.6,590.6 959.9,590.7 961.3,590.6 962.6,590.2 964.0,589.7 965.3,589.1 966.6,588.3 967.8,587.5 969.1,586.7 970.3,585.8 971.6,585.0 972.8,584.2 974.1,583.5 975.4,582.8 976.8,582.2 978.2,581.8 979.6,581.5 981.0,581.4 982.5,581.5 983.9,581.9 985.2,582.3 986.5,583.0 987.7,583.7 988.9,584.7 989.9,585.7 990.9,586.8 991.9,587.9 992.8,589.1 993.6,590.3 994.4,591.6 995.2,592.9 996.0,594.2 996.7,595.5 997.5,596.8 998.2,598.1 999.0,599.4 999.7,600.7 1000.4,602.0 1001.2,603.3 1002.0,604.5 1002.9,605.7 1003.8,606.9 1004.7,608.1 1005.6,609.3 1006.5,610.5 1007.4,611.7 1008.4,612.9 1009.3,614.0 1010.3,615.2 1011.3,616.3 1012.2,617.4 1013.3,618.5 1014.3,619.6 1015.4,620.6 1016.6,621.5 1017.7,622.5 1018.9,623.4 1020.2,624.2 1021.4,625.0 1022.7,625.8 1024.0,626.6 1025.3,627.3 1026.7,627.9 1028.0,628.5 1029.4,629.1 1030.8,629.7 1032.2,630.3 1033.6,630.8 1035.0,631.4 1036.4,631.9 1037.8,632.4 1039.2,632.9 1040.6,633.3 1042.1,633.8 1043.5,634.2 1044.9,634.6 1046.4,635.0 1047.8,635.5 1049.3,635.9 1050.7,636.3 1052.1,636.8 1053.6,637.2 1055.0,637.6 1056.4,638.1 1057.9,638.5 1059.3,638.9 1060.7,639.4 1062.2,639.8 1063.6,640.2 1065.1,640.6 1066.5,641.1 1067.9,641.5 1069.4,641.9 1070.8,642.3 1072.3,642.8 1073.7,643.2 1075.1,643.6 1076.6,644.0 1078.0,644.3 1079.5,644.7 1080.9,645.1 1082.4,645.5 1083.8,645.9 1085.3,646.3 1086.7,646.8 1088.1,647.3 1089.5,647.8 1090.9,648.3 1092.3,648.9 1093.7,649.4 1095.1,650.0 1096.5,650.5 1097.9,651.0 1099.3,651.6 1100.7,652.1 1102.1,652.6 1103.5,653.1 1105.0,653.6 1106.4,654.1 1107.8,654.6 1109.2,655.1 1110.6,655.6 1112.0,656.1 1113.4,656.6 1114.9,657.1 1116.3,657.6 1117.7,658.1 1119.1,658.6 1120.5,659.0 1122.0,659.5 1123.4,660.0 1124.8,660.4 1126.2,660.9 1127.7,661.3 1129.1,661.7 1130.6,662.2 1132.0,662.6 1133.4,663.0 1134.9,663.5 1136.3,663.9 1137.7,664.3 1139.2,664.8 1140.6,665.2 1142.0,665.6 1143.5,666.0 1144.9,666.4 1146.4,666.8 1147.8,667.2 1149.3,667.5 1150.8,667.8 1152.2,668.1 1153.7,668.4 1155.2,668.6 1156.7,668.9 1158.1,669.2 1159.6,669.5 1161.1,669.8 1162.6,670.0 1164.0,670.3 1165.5,670.5 1166.9,670.8 1168.3,671.1 1169.5,671.3 1170.5,671.4 1170.7,671.5" stroke="#00ff00"/>
</g>
<g fill="#000"><rect x="437.6" y="96.4" width="7.8" height="7.8"/><rect x="437.6" y="112.3" width="7.8" height="7.8"/><rect x="437.6" y="128.1" width="7.8" height="7.8"/><rect x="437.6" y="144.0" width="7.8" height="7.8"/><rect x="437.6" y="159.9" width="7.8" height="7.8"/><rect x="437.6" y="175.7" width="7.8" height="7.8"/><rect x="437.6" y="191.6" width="7.8" height="7.8"/><rect x="437.6" y="207.5" width="7.8" height="7.8"/><rect x="437.6" y="223.4" width="7.8" height="7.8"/><rect x="437.6" y="239.2" width="7.8" height="7.8"/><rect x="437.6" y="255.1" width="7.8" height="7.8"/><rect x="437.6" y="271.0" width="7.8" height="7.8"/><rect x="437.6" y="286.8" width="7.8" height="7.8"/><rect x="437.6" y="302.7" width="7.8" height="7.8"/><rect x="437.6" y="318.6" width="7.8" height="7.8"/><rect x="437.6" y="334.4" width="7.8" height="7.8"/><rect x="437.6" y="350.3" width="7.8" height="7.8"/><rect x="437.6" y="366.2" width="7.8" height="7.8"/><rect x="616.2" y="294.1" width="7.8" height="7.8"/><rect x="616.2" y="310.0" width="7.8" height="7.8"/><rect x="616.2" y="325.9" width="7.8" height="7.8"/><rect x="616.2" y="341.8" width="7.8" height="7.8"/><rect x="616.2" y="357.7" width="7.8" height="7.8"/><rect x="616.2" y="373.6" width="7.8" height="7.8"/><rect x="616.2" y="389.5" width="7.8" height="7.8"/><rect x="616.2" y="405.4" width="7.8" height="7.8"/><rect x="616.2" y="421.3" width="7.8" height="7.8"/><rect x="616.2" y="437.2" width="7.8" height="7.8"/><rect x="616.2" y="453.1" width="7.8" height="7.8"/><rect x="616.2" y="469.0" width="7.8" height="7.8"/></g>
<rect x="97.7" y="30.7" width="1071.0" height="663.5" fill="none" stroke="#000" stroke-width="2.4"/>
<g stroke="#000" stroke-width="2.4"><line x1="97.7" y1="694" x2="97.7" y2="707.5"/><line x1="154.1" y1="694" x2="154.1" y2="700.5"/><line x1="210.4" y1="694" x2="210.4" y2="707.5"/><line x1="266.8" y1="694" x2="266.8" y2="700.5"/><line x1="323.2" y1="694" x2="323.2" y2="707.5"/><line x1="379.5" y1="694" x2="379.5" y2="700.5"/><line x1="435.9" y1="694" x2="435.9" y2="707.5"/><line x1="492.3" y1="694" x2="492.3" y2="700.5"/><line x1="548.6" y1="694" x2="548.6" y2="707.5"/><line x1="605.0" y1="694" x2="605.0" y2="700.5"/><line x1="661.4" y1="694" x2="661.4" y2="707.5"/><line x1="717.8" y1="694" x2="717.8" y2="700.5"/><line x1="774.1" y1="694" x2="774.1" y2="707.5"/><line x1="830.5" y1="694" x2="830.5" y2="700.5"/><line x1="886.9" y1="694" x2="886.9" y2="707.5"/><line x1="943.2" y1="694" x2="943.2" y2="700.5"/><line x1="999.6" y1="694" x2="999.6" y2="707.5"/><line x1="1056.0" y1="694" x2="1056.0" y2="700.5"/><line x1="1112.3" y1="694" x2="1112.3" y2="707.5"/><line x1="1168.7" y1="694" x2="1168.7" y2="700.5"/></g>
<g font-size="45" fill="#000"><text x="97.7" y="750.3" text-anchor="middle">330</text><text x="210.4" y="750.3" text-anchor="middle">350</text><text x="323.2" y="750.3" text-anchor="middle">370</text><text x="435.9" y="750.3" text-anchor="middle">390</text><text x="548.6" y="750.3" text-anchor="middle">410</text><text x="661.4" y="750.3" text-anchor="middle">430</text><text x="774.1" y="750.3" text-anchor="middle">450</text><text x="886.9" y="750.3" text-anchor="middle">470</text><text x="999.6" y="750.3" text-anchor="middle">490</text><text x="1112.3" y="750.3" text-anchor="middle">510</text></g>
<g><line x1="949" y1="114.1" x2="1045" y2="114.1" stroke="#00ff00" stroke-width="8" stroke-linecap="round"/><text x="1055.5" y="128.4" font-size="44">TZC</text><line x1="949" y1="167.9" x2="1045" y2="167.9" stroke="#0000ff" stroke-width="8" stroke-linecap="round"/><text x="1055.5" y="182.20000000000002" font-size="44">TC</text><line x1="949" y1="220.5" x2="1045" y2="220.5" stroke="#ff0000" stroke-width="8" stroke-linecap="round"/><text x="1055.5" y="234.8" font-size="44">TZ</text><line x1="949" y1="274.3" x2="1045" y2="274.3" stroke="#000000" stroke-width="8" stroke-linecap="round"/><text x="1055.5" y="288.6" font-size="44">T0</text></g>
<text x="634.3" y="819" font-size="43.8" text-anchor="middle">Wavelength (nm)</text>
<text transform="translate(55,336.5) rotate(-90)" font-size="43.6" text-anchor="middle">Intensity (a.u.)</text>
</svg>
</body></html>
